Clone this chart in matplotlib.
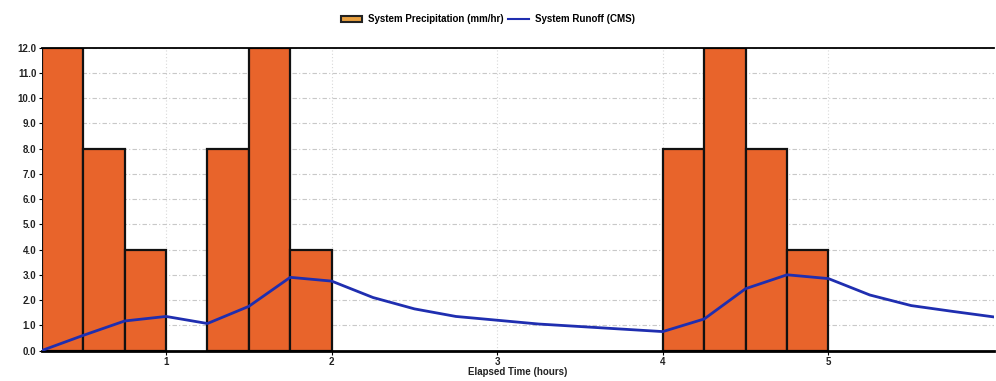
from matplotlib import pyplot as plt
import matplotlib.ticker as ticker
from matplotlib.patches import Patch
from matplotlib.lines import Line2D

# rainfall blocks (start of each 15 min interval, mm/hr)
rain_start = [0.25, 0.5, 0.75, 1.25, 1.5, 1.75, 4.0, 4.25, 4.5, 4.75]
rain_mmhr = [12.0, 8.0, 4.0, 8.0, 12.0, 4.0, 8.0, 12.0, 8.0, 4.0]
rain_width = 0.25

# runoff hydrograph (CMS)
flow_time = [0.25, 0.5, 0.75, 1.0, 1.25, 1.5, 1.75, 2.0, 2.25, 2.5, 2.75, 3.0,
             3.25, 3.5, 3.75, 4.0, 4.25, 4.5, 4.75, 5.0, 5.25, 5.5, 5.75, 6.0]
flow_cms = [0.0, 0.6, 1.17, 1.35, 1.07, 1.75, 2.9, 2.75, 2.1, 1.65, 1.35, 1.2,
            1.05, 0.95, 0.85, 0.75, 1.25, 2.45, 3.0, 2.85, 2.2, 1.78, 1.55, 1.33]

x_ticks = [1, 2, 3, 4, 5]

plt.rcParams['font.family'] = ['Liberation Sans', 'DejaVu Sans']

fig = plt.figure(figsize=(9.96, 3.81), dpi=100)
ax = fig.add_axes([0.042, 0.080, 0.956, 0.795])

ax.bar(rain_start, rain_mmhr, width=rain_width, align='edge',
       color='#E8642B', edgecolor='#111111', linewidth=1.6, zorder=2)
ax.plot(flow_time, flow_cms, color='#1F2EB0', linewidth=2.0, zorder=3)

ax.set_xlim(0.25, 6.0)
ax.set_ylim(0, 12)
ax.xaxis.set_major_locator(ticker.FixedLocator(x_ticks))
ax.yaxis.set_major_locator(ticker.MultipleLocator(1.0))
ax.yaxis.set_major_formatter(ticker.FormatStrFormatter('%.1f'))

ax.grid(axis='y', color='#C8C8C8', linestyle=(0, (4, 2, 1, 2)), linewidth=0.8, zorder=0)
ax.grid(axis='x', color='#D8D8D8', linestyle=(0, (1, 2)), linewidth=0.8, zorder=0)

for s in ['left', 'right']:
    ax.spines[s].set_visible(False)
ax.spines['top'].set_linewidth(1.3)
ax.spines['bottom'].set_linewidth(2.0)

ax.tick_params(axis='y', length=2, width=0.8, pad=2, labelsize=7)
ax.tick_params(axis='x', length=3, width=0.8, pad=2, labelsize=7)
for lbl in ax.get_xticklabels() + ax.get_yticklabels():
    lbl.set_fontweight('bold')
    lbl.set_color('#222222')

ax.set_xlabel('Elapsed Time (hours)', fontsize=7, fontweight='bold',
              color='#222222', labelpad=0)

handles = [Patch(facecolor='#E8A040', edgecolor='#222222', linewidth=1.5),
           Line2D([0], [0], color='#1F2EB0', linewidth=1.5)]
labels = ['System Precipitation (mm/hr)', 'System Runoff (CMS)']
fig.legend(handles, labels, loc='center', bbox_to_anchor=(0.49, 0.95), ncol=2,
           frameon=False, prop={'size': 7, 'weight': 'bold'},
           handlelength=2.2, handleheight=0.6, columnspacing=0.4, handletextpad=0.6)

plt.savefig('out.png', dpi=100)
